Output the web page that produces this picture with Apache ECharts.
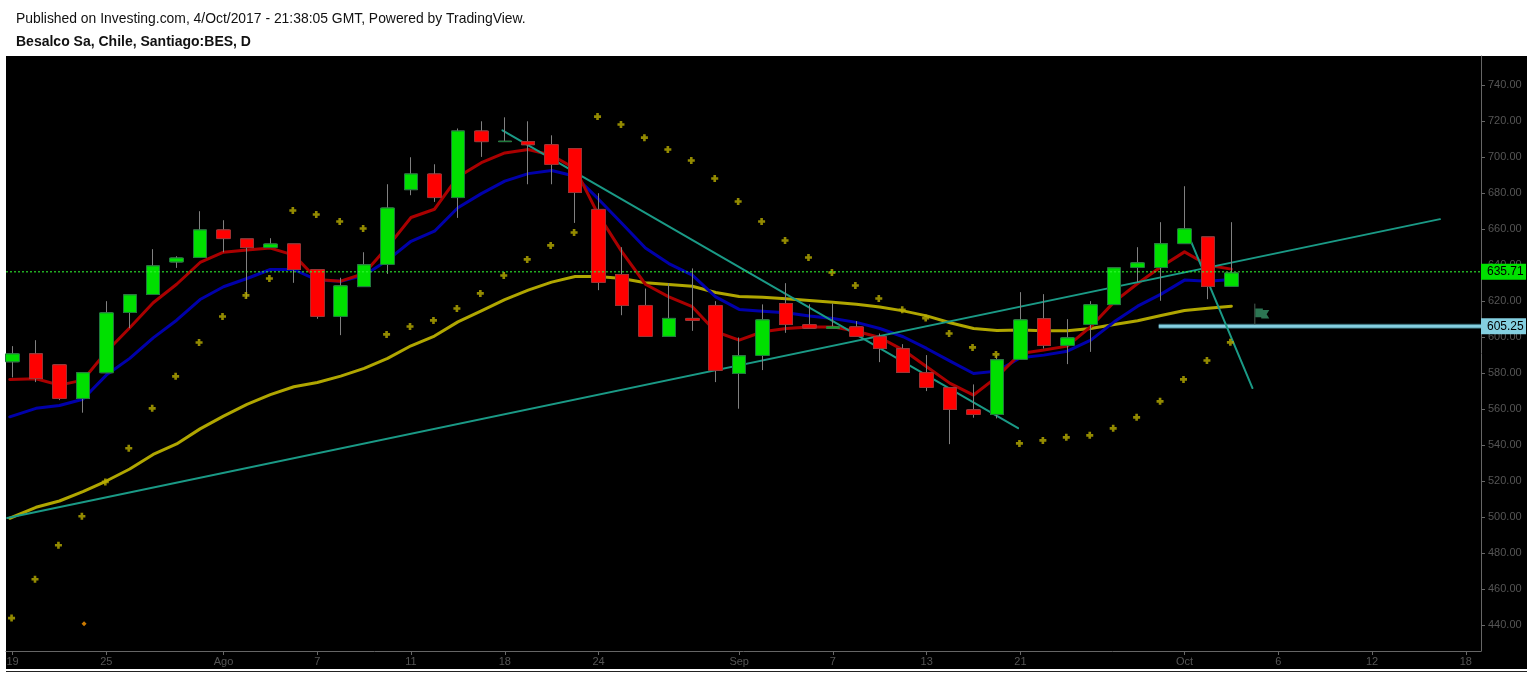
<!DOCTYPE html>
<html><head><meta charset="utf-8">
<style>html,body{margin:0;padding:0;background:#fff;}#c{width:1533px;height:674px;}</style>
<script src="https://cdn.jsdelivr.net/npm/echarts@6/dist/echarts.min.js"></script>
</head><body><div id="c"></div>
<script>
const headline = "Published on Investing.com, 4/Oct/2017 - 21:38:05 GMT, Powered by TradingView.";
const symbolName = "Besalco Sa, Chile, Santiago:BES, D";
const xTickPos = [0,4,9,13,17,21,25,31,35,39,43,50,54,58,62];
const xTickLabels = ["19","25","Ago","7","11","18","24","Sep","7","13","21","Oct","6","12","18"];
const yTicks = [440,460,480,500,520,540,560,580,600,620,640,660,680,700,720,740];
const opens = [586.3,590.7,584.6,565.9,580.2,613.7,623.7,641.8,644.3,659.6,654.6,649.8,651.8,637.6,611.5,628.1,640.4,682,690.7,677.6,714.6,708.7,708.7,707,704.8,671,634.8,617.6,600.4,610.4,617.6,579.8,589.8,618.7,606.9,605,605.7,600.2,593.5,580.2,571.8,559.6,557,587.6,610.2,595.4,607,618.1,638.7,638.7,652,655.7,628.2];
const closes = [590.7,577,565.9,580.2,613.5,623.5,639.6,644,659.6,654.8,649.8,651.8,637.6,611.5,628.5,640.2,671.8,690.7,677.6,714.6,708.7,708.9,707,696,680.4,630.4,617.6,600.4,610.4,609.3,581.5,589.6,609.6,607,605,605.7,600.4,593.7,580.4,572,559.8,557,587.4,609.6,595.4,599.6,618,638.5,641.3,651.9,660.2,628.2,635.7];
const highs = [595,598.3,584.6,580.2,620,623.5,648.9,645,670,665,654.6,655,651.8,637.6,633,647.2,685,700,696.1,716,720,722.2,720,712.2,704.8,680,650,627,630,638.2,620,599.8,618.2,630,618.2,618.7,608.9,602,596.1,590,571.8,573.7,590,625,623.9,610,620,638.5,650,663.9,683.9,655.7,663.9];
const lows = [577.6,575,565,558,580.2,605,623.7,638.5,644.3,647.2,621.5,649.8,630.2,610.2,601.1,628.1,635.2,678.9,675.2,666.3,700.2,708.7,685,685,663.5,626.1,612.2,600.4,600.4,603.5,575,560.2,581.7,602.4,605,605,600.4,586.1,580.4,570,540.5,555.2,554.8,587.6,593.7,585,591.8,618,630.7,620.2,652,621.1,628.2];
const redMA = [576.5,576.9,573.3,576.1,591.9,605.2,619.1,629.4,641.5,647.2,648.5,649.5,645.6,632,631.1,635.4,650.2,666.5,671.1,689.1,697,702.4,704.3,701.1,693.7,667.8,647.4,629.4,622.4,616.9,603,598.3,603,604.8,605.7,605.7,603.3,599.8,592.8,583.5,574.3,567.8,577.9,590.9,592.8,595,605.8,619.6,629.8,639.1,647.4,640,637.8];
const blueMA = [555.7,560.4,562,565.5,578.9,588.2,599.6,609.4,620.9,628,632.6,637.6,637.6,631.7,631.1,634.4,642.8,653.3,658.9,671.9,679.8,686.7,690.9,692.6,689.4,676.7,663.2,649.6,640.9,634.5,622.4,615.4,614.4,613.5,611.7,610.4,608.2,604.8,600.2,593.7,586.7,579.8,581.1,588.5,590,592.2,598.3,608.5,617.2,623.9,631.7,631.1,632];
const oliveMA = [499.3,505.4,508.9,514.1,520,526.7,534.8,540.6,549,556.1,562.6,568,572.4,574.8,578.3,582.6,588.2,595.2,600.6,608.5,614.6,620.9,626.1,630.6,633.7,633.7,632.6,630.2,629.3,628.3,624.8,622.6,622.2,621.3,620.4,619.4,618.3,616.7,614.6,611.8,608,604.8,603.7,603.9,603.5,603.5,604.8,607,609.1,612,614.8,616.1,617.2];
const sar = [443.8,465.4,484.3,500.4,519.5,538.2,560.4,578.2,597,611.5,623.2,632.6,670.4,668.2,664.3,660.4,601.5,605.9,609.3,615.9,624.3,634.3,643.2,651,658.2,722.6,718.2,710.9,704.3,698.2,688.2,675.4,664.3,653.7,644.3,635.9,628.7,621.5,615.2,610.6,602,594.3,590.4,540.9,542.6,544.3,545.4,549.3,555.4,564.3,576.5,587,597.1];
const trendA = [[-0.23,499.4],[60.9,665.6]];
const trendB = [[20.9,715],[42.9,549.4]];
const trendC = [[50.2,655.6],[52.9,571.7]];
const lastPriceText = "635.71";
const rayPriceText = "605.25";
const lastPriceLevel = 636.3;
const rayPriceLevel = 606;
const rayStart = 48.9;
const arrowDot = [[3.05,440.6]];
const flagPole = [[53,607.2],[53,618.4]];
const flagMark = [[53.32,613.2]];

const xMin = -0.28, xMax = 62.65;
const line = (name,arr,color,w,z)=>({name,type:'line',data:arr,symbol:'none',silent:true,z,
  lineStyle:{color,width:w,cap:'round',join:'round'},itemStyle:{color},clip:true,animation:false});
const withX = arr => arr.map((v,i)=>[i===0?-0.12:i,v]);
const wickRows = opens.map((o,i)=>[i,o,closes[i],lows[i],highs[i]]);
const bodyRows = opens.map((o,i)=>[i,o,closes[i],Math.min(o,closes[i]),Math.max(o,closes[i])]);
const priceLabel = (bg,fg,text)=>({show:true,position:'end',distance:0,color:fg,backgroundColor:bg,
  fontFamily:'Liberation Sans',fontSize:12,padding:[2,4,2,6],width:35,lineHeight:12,align:'left',
  formatter:()=>text});

const chart = echarts.init(document.getElementById('c'),null,{renderer:'canvas'});
chart.setOption({
  animation:false,
  backgroundColor:'#fff',
  title:[
    {text:headline,left:11,top:7,textStyle:{fontFamily:'Liberation Sans',fontSize:13.9,fontWeight:'normal',color:'#111'}},
    {text:symbolName,left:11,top:30,textStyle:{fontFamily:'Liberation Sans',fontSize:14,fontWeight:'bold',color:'#111'}}
  ],
  graphic:[
    {type:'rect',z:-10,silent:true,shape:{x:6,y:56,width:1521,height:613},style:{fill:'#000'}},
    {type:'rect',z:-10,silent:true,shape:{x:6,y:671,width:1521,height:1},style:{fill:'#222'}}
  ],
  grid:{left:6,top:56,width:1475,height:595,containLabel:false},
  xAxis:{type:'value',min:xMin,max:xMax,position:'bottom',
    axisLine:{onZero:false,lineStyle:{color:'#666',width:1}},
    axisTick:{show:true,length:4,lineStyle:{color:'#666'},customValues:xTickPos},
    axisLabel:{color:'#555',fontFamily:'Liberation Sans',fontSize:11,margin:5,customValues:xTickPos,
      formatter:v=>xTickLabels[xTickPos.indexOf(v)]},
    splitLine:{show:false}},
  yAxis:{type:'value',min:425.5,max:756.3,position:'right',
    axisLine:{onZero:false,lineStyle:{color:'#666',width:1}},
    axisTick:{show:true,length:4,lineStyle:{color:'#666'},customValues:yTicks},
    axisLabel:{color:'#555',fontFamily:'Liberation Sans',fontSize:11,margin:7,customValues:yTicks,
      formatter:v=>v.toFixed(2)},
    splitLine:{show:false}},
  series:[
    {name:'ray under',type:'line',data:[[rayStart,rayPriceLevel],[xMax,rayPriceLevel]],symbol:'none',silent:true,z:2,
      lineStyle:{color:'#2f5f68',width:5,cap:'butt'},
      markLine:{silent:true,symbol:'none',z:30,lineStyle:{color:'rgba(0,0,0,0)'},
        data:[{yAxis:rayPriceLevel}],label:priceLabel('#84cfe0','#000',rayPriceText)}},
    {name:'ray',type:'line',data:[[rayStart,rayPriceLevel],[xMax,rayPriceLevel]],symbol:'none',silent:true,z:3,
      lineStyle:{color:'#84cfe0',width:3,cap:'butt'}},
    line('Olive MA',withX(oliveMA),'#b0a600',3,4),
    line('Blue MA',withX(blueMA),'#0000aa',3,5),
    line('Red MA',withX(redMA),'#aa0000',3,6),
    line('Trend A',trendA,'#1a9a86',2,7),
    line('Trend B',trendB,'#1a9a86',2,7),
    line('Trend C',trendC,'#1a9a86',2,7),
    {name:'Wicks',type:'candlestick',data:wickRows,barWidth:13,z:8,silent:true,
      itemStyle:{color:'#808080',color0:'#808080',borderColor:'#808080',borderColor0:'#808080',borderColorDoji:'#808080',borderWidth:1}},
    {name:'Bodies',type:'candlestick',data:bodyRows,barWidth:14,z:9,silent:true,
      itemStyle:{color:'#00e000',color0:'#ff0000',borderColor:'#1f7a3c',borderColor0:'#a03030',borderColorDoji:'#1f9a3c',borderWidth:1}},
    {name:'SAR',type:'scatter',data:sar.map((v,i)=>[i,v]),silent:true,z:10,
      symbol:'path://M2.5 0H5.5V2.5H8V5.5H5.5V8H2.5V5.5H0V2.5H2.5Z',symbolSize:7,symbolOffset:[-1,0],
      itemStyle:{color:'#b8ac00'}},
    {name:'Arrow',type:'scatter',data:arrowDot,silent:true,z:10,symbol:'diamond',symbolSize:5,itemStyle:{color:'#ff9900'}},
    line('Flag pole',flagPole,'#4a5c52',1,10),
    {name:'Flag',type:'scatter',data:flagMark,silent:true,z:10,
      symbol:'path://M0 0H7V1.5H13L10.5 5.5L13 9.5H5.5V8.5H0Z',symbolSize:[14,10],
      itemStyle:{color:'#379468'}},
    {name:'Last',type:'line',data:[[xMin,lastPriceLevel],[xMax,lastPriceLevel]],symbol:'none',silent:true,z:20,
      lineStyle:{color:'#33ff33',width:1,type:[2,2]},
      markLine:{silent:true,symbol:'none',z:30,lineStyle:{color:'rgba(0,0,0,0)'},
        data:[{yAxis:lastPriceLevel}],label:priceLabel('#00e000','#000',lastPriceText)}}
  ]
});
</script></body></html>
